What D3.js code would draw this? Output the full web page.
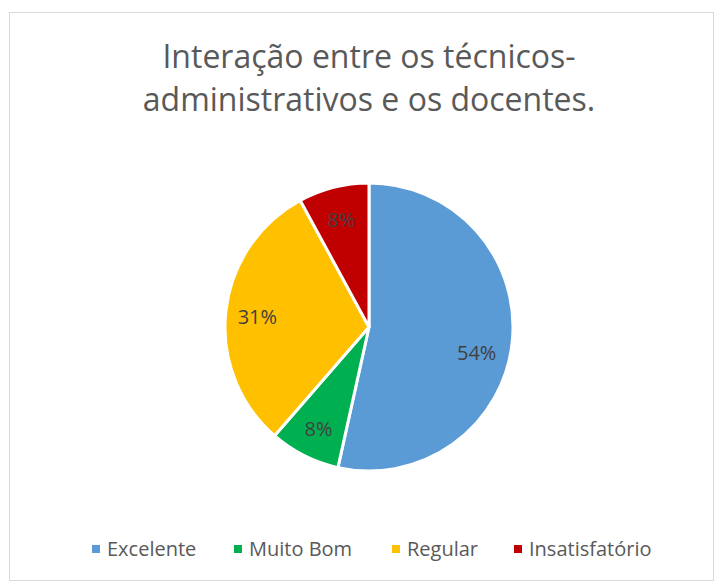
<!DOCTYPE html>
<html>
<head>
<meta charset="utf-8">
<script src="https://cdn.jsdelivr.net/npm/d3@7"></script>
<style>
  body { margin: 0; background: #fff; }
  text { font-family: 'Open Sans', 'Noto Sans', sans-serif; }
</style>
</head>
<body>
<div id="chart"></div>
<script>
const titleLines = ['Interação entre os técnicos-', 'administrativos e os docentes.'];
const categories = ['Excelente', 'Muito Bom', 'Regular', 'Insatisfatório'];
const values = [54, 8, 31, 8];
const colors = ['#5b9bd5', '#00b050', '#ffc000', '#c00000'];

const svgWidth = 714;
const svgHeight = 581;
const cx = 369;
const cy = 327;
const radius = 144;

const svg = d3
    .select('#chart')
    .append('svg')
    .attr('width', svgWidth)
    .attr('height', svgHeight);

// chart frame
svg.append('rect')
    .attr('x', 9.5)
    .attr('y', 12.5)
    .attr('width', svgWidth - 10)
    .attr('height', svgHeight - 13)
    .attr('fill', '#fff')
    .attr('stroke', '#d9d9d9');

svg.append('g')
    .selectAll('text')
    .data(titleLines)
    .enter()
    .append('text')
    .attr('x', cx)
    .attr('y', (d, i) => 68 + i * 43)
    .attr('text-anchor', 'middle')
    .attr('font-size', 32)
    .attr('fill', '#595959')
    .text(d => d);

const color = d3.scaleOrdinal().domain(categories).range(colors);

const data = categories.map((c, i) => ({ cat: c, val: values[i] }));

const pie = d3.pie().sort(null).value(d => d.val);
const arc = d3.arc().innerRadius(0).outerRadius(radius);
const labelArc = d3.arc().innerRadius(radius * 0.78).outerRadius(radius * 0.78);

const g = svg.append('g').attr('transform', `translate(${cx}, ${cy})`);

const slices = pie(data);

g.selectAll('path')
    .data(slices)
    .enter()
    .append('path')
    .attr('d', arc)
    .attr('fill', d => color(d.data.cat))
    .attr('stroke', '#fff')
    .attr('stroke-width', 3)
    .attr('stroke-linejoin', 'round');

g.selectAll('text.label')
    .data(slices)
    .enter()
    .append('text')
    .attr('class', 'label')
    .attr('transform', d => {
        const [x, y] = labelArc.centroid(d);
        // the large slice label sits a bit lower, as in the original
        const shift = d.endAngle - d.startAngle > Math.PI ? 14 : 2;
        return `translate(${x - (shift > 2 ? 4 : 0)}, ${y + shift})`;
    })
    .attr('text-anchor', 'middle')
    .attr('dy', '0.35em')
    .attr('font-size', 20)
    .attr('fill', '#404040')
    .text(d => d.data.val + '%');

// legend
const legendX = [92, 234, 392, 514];
const legend = svg
    .append('g')
    .selectAll('g')
    .data(categories)
    .enter()
    .append('g')
    .attr('transform', (d, i) => `translate(${legendX[i]}, 549)`);

legend.append('rect')
    .attr('x', 0)
    .attr('y', -4)
    .attr('width', 8)
    .attr('height', 8)
    .attr('fill', d => color(d));

legend.append('text')
    .attr('x', 15)
    .attr('dy', '0.35em')
    .attr('font-size', 20)
    .attr('fill', '#595959')
    .text(d => d);
</script>
</body>
</html>
